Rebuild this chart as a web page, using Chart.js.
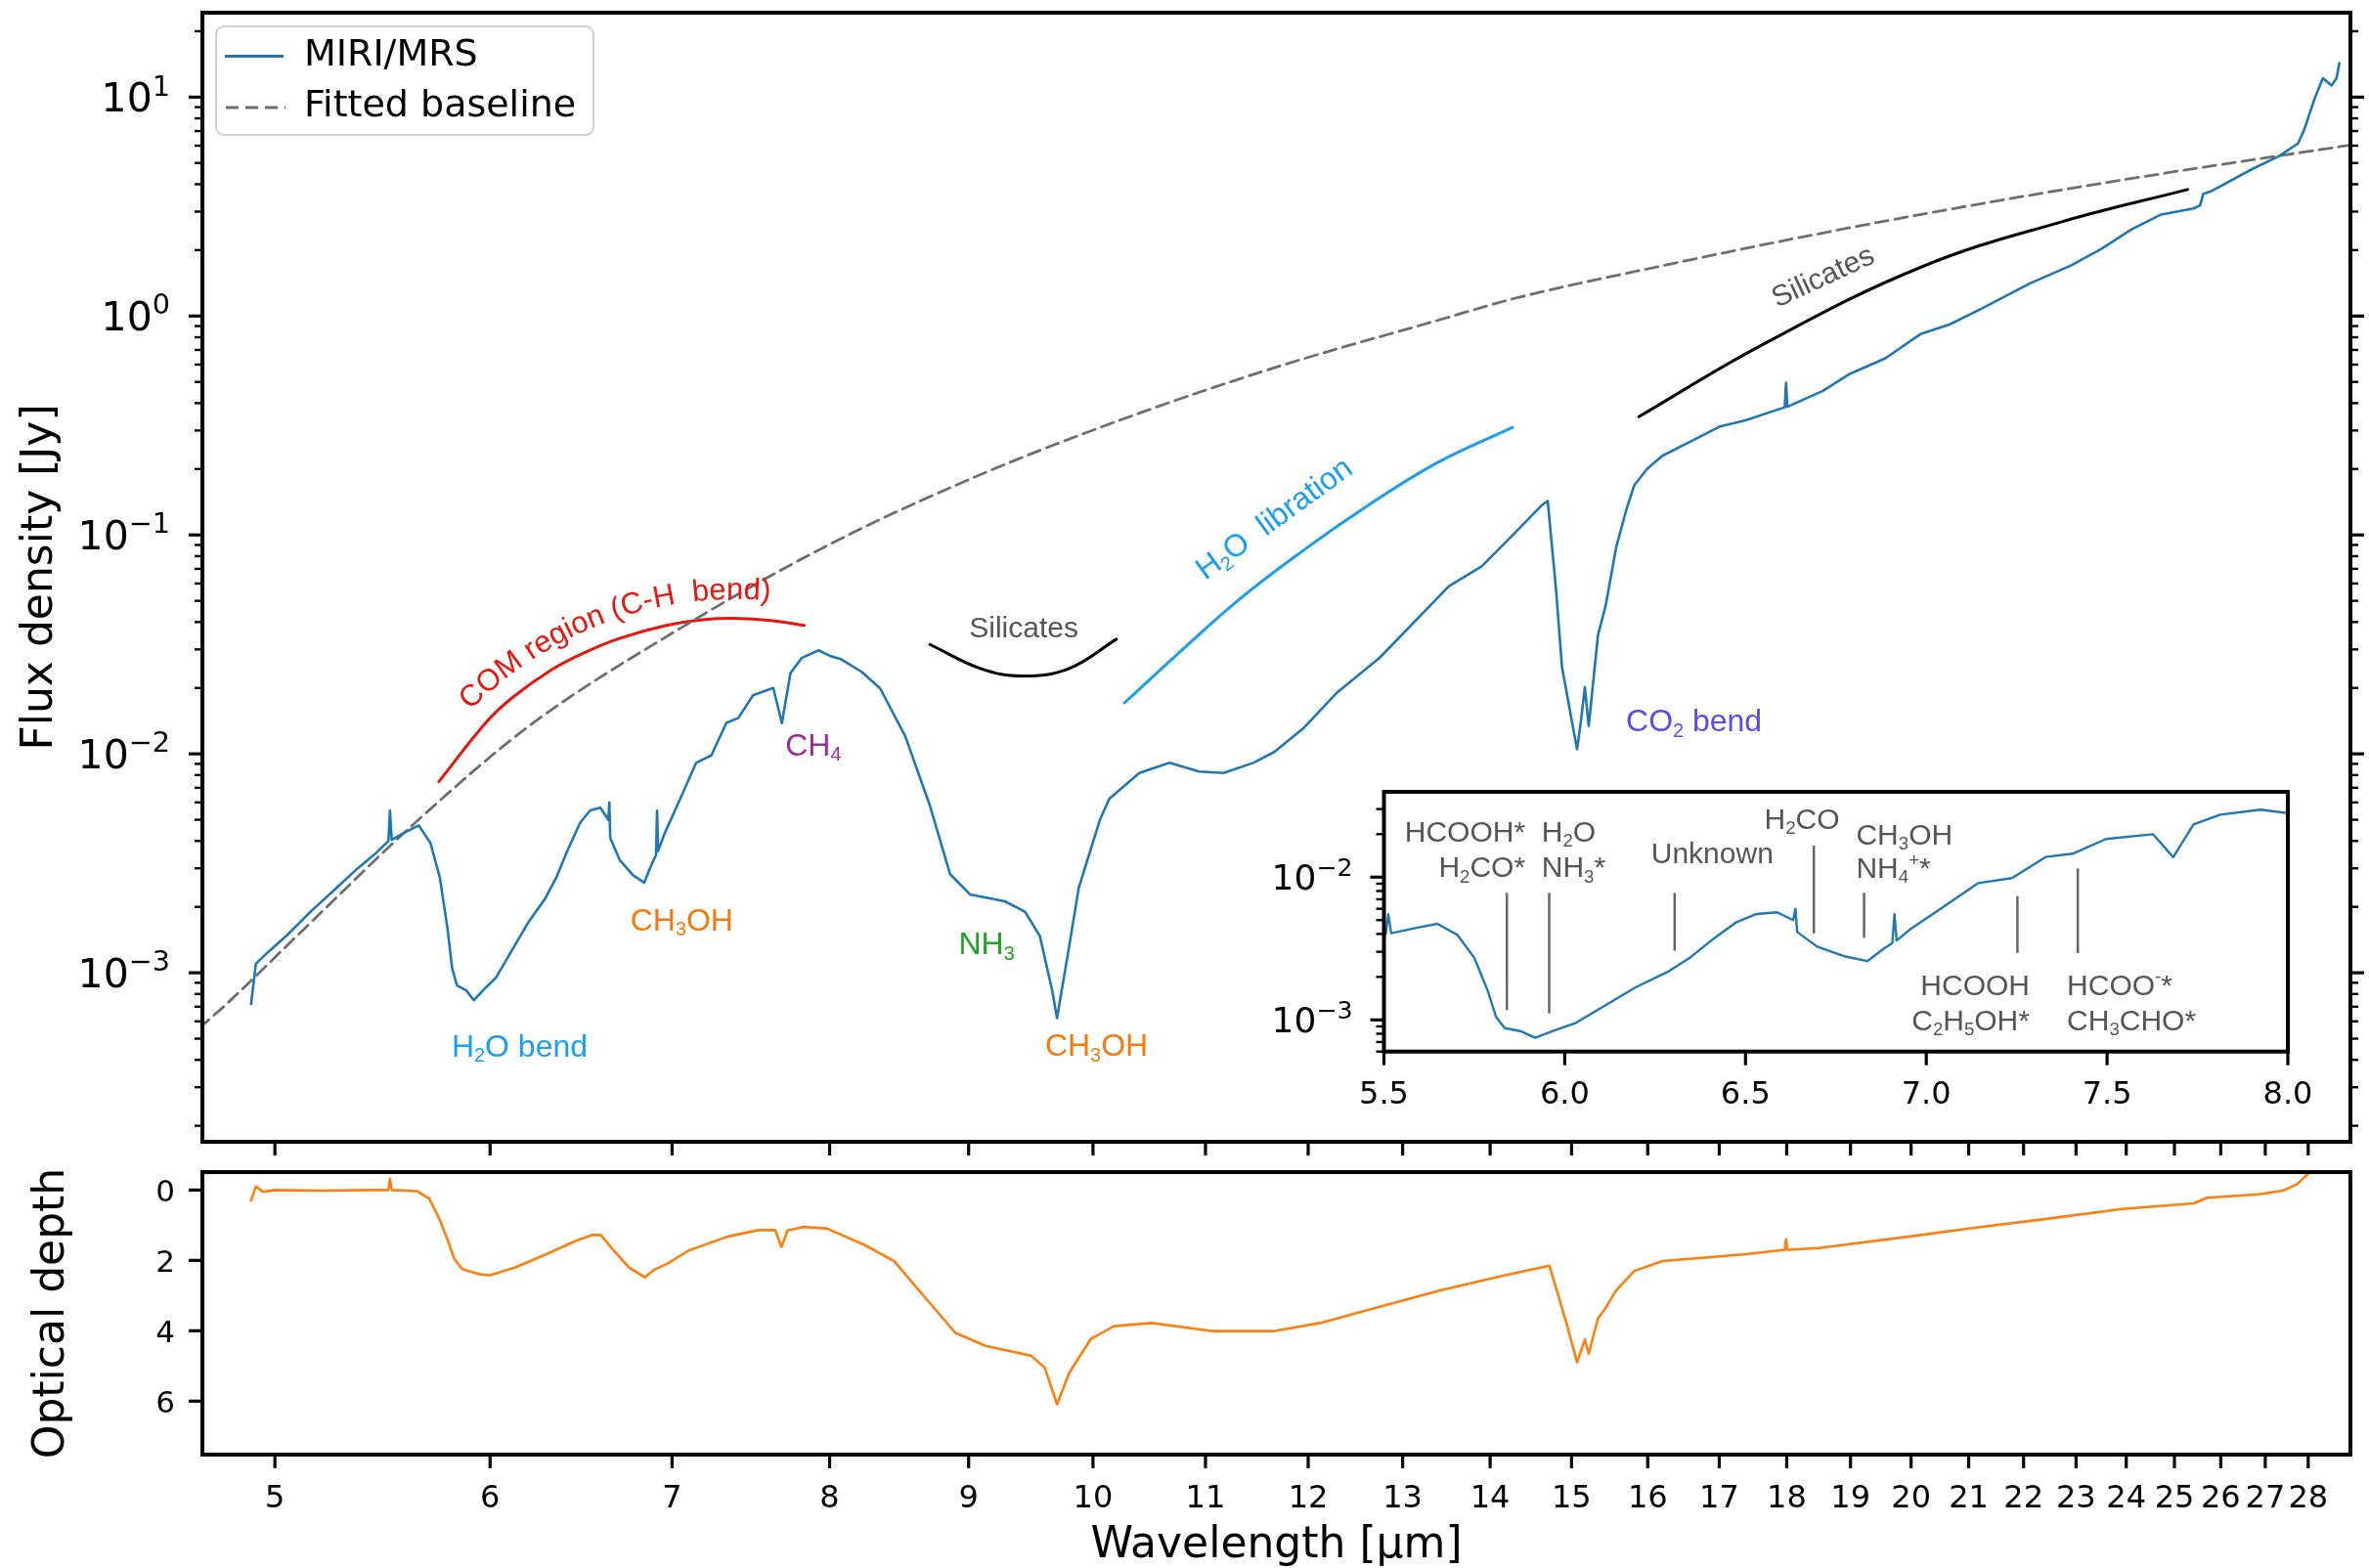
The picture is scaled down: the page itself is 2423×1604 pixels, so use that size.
<!DOCTYPE html>
<html>
<head>
<meta charset="utf-8">
<script src="https://cdn.jsdelivr.net/npm/chart.js@4.4.1/dist/chart.umd.min.js"></script>
<style>
  html, body { margin: 0; padding: 0; background: #fff; }
  #wrap { position: relative; width: 2423px; height: 1604px; }
  #wrap canvas { position: absolute; left: 0; top: 0; }
</style>
</head>
<body>
<div id="wrap">
  <canvas id="topChart" width="2423" height="1604"></canvas>
  <canvas id="bottomChart" width="2423" height="1604"></canvas>
  <canvas id="insetChart" width="2423" height="1604"></canvas>
</div>
<script>
// spectrum: wavelength [um] and flux density [Jy]
const wlFlux = [4.90, 4.92, 4.97, 5.05, 5.16, 5.26, 5.36, 5.44, 5.505, 5.512, 5.52, 5.60, 5.648, 5.704, 5.750, 5.787,
  5.810, 5.834, 5.880, 5.918, 5.964, 6.029, 6.104, 6.196, 6.289, 6.345, 6.401, 6.475, 6.531, 6.587, 6.632, 6.638,
  6.643, 6.698, 6.773, 6.837, 6.884, 6.906, 6.912, 6.918, 6.958, 7.051, 7.144, 7.237, 7.330, 7.405, 7.497, 7.627,
  7.683, 7.739, 7.813, 7.925, 7.999, 8.08, 8.22, 8.35, 8.53, 8.71, 8.86, 9.01, 9.28, 9.44, 9.56, 9.66, 9.70, 9.80,
  9.88, 10.06, 10.14, 10.40, 10.67, 10.94, 11.17, 11.46, 11.66, 11.96, 12.30, 12.75, 13.52, 13.90, 14.26, 14.62,
  14.70, 14.80, 14.88, 15.07, 15.12, 15.17, 15.22, 15.34, 15.44, 15.58, 15.72, 15.82, 15.99, 16.20, 16.64, 17.00,
  17.38, 17.97, 17.99, 18.01, 18.56, 18.97, 19.57, 20.17, 20.66, 21.20, 22.12, 22.90, 23.49, 24.10, 24.72, 25.41,
  25.55, 25.62, 25.77, 26.70, 27.31, 27.76, 27.90, 28.16, 28.35, 28.56, 28.68, 28.75];
const flux = [7.2e-4, 1.10e-3, 1.24e-3, 1.48e-3, 1.93e-3, 2.40e-3, 2.98e-3, 3.47e-3, 4.0e-3, 5.5e-3, 4.05e-3, 4.47e-3,
  4.71e-3, 3.92e-3, 2.72e-3, 1.60e-3, 1.05e-3, 8.75e-4, 8.31e-4, 7.49e-4, 8.31e-4, 9.48e-4, 1.23e-3, 1.69e-3,
  2.20e-3, 2.71e-3, 3.53e-3, 4.84e-3, 5.52e-3, 5.67e-3, 5.0e-3, 6.0e-3, 4.13e-3, 3.26e-3, 2.79e-3, 2.58e-3, 3.18e-3,
  3.45e-3, 5.5e-3, 3.6e-3, 4.36e-3, 6.29e-3, 9.09e-3, 9.84e-3, 1.384e-2, 1.46e-2, 1.85e-2, 2.00e-2, 1.38e-2, 2.34e-2,
  2.74e-2, 2.97e-2, 2.81e-2, 2.70e-2, 2.37e-2, 1.99e-2, 1.20e-2, 5.79e-3, 2.82e-3, 2.28e-3, 2.12e-3, 1.90e-3,
  1.47e-3, 8.30e-4, 6.21e-4, 1.32e-3, 2.44e-3, 5.02e-3, 6.24e-3, 8.17e-3, 9.10e-3, 8.30e-3, 8.17e-3, 9.12e-3,
  1.02e-2, 1.32e-2, 1.91e-2, 2.75e-2, 5.83e-2, 7.19e-2, 9.89e-2, 0.136, 0.143, 0.0586, 0.0248, 0.0105, 0.0141,
  0.0202, 0.0134, 0.0349, 0.0476, 0.0883, 0.133, 0.169, 0.200, 0.230, 0.272, 0.312, 0.334, 0.383, 0.496, 0.385,
  0.455, 0.541, 0.641, 0.830, 0.914, 1.07, 1.41, 1.70, 2.02, 2.48, 2.91, 3.10, 3.20, 3.62, 3.70, 4.69, 5.37, 6.14,
  7.05, 9.94, 12.2, 11.3, 12.2, 14.3];

// fitted continuum (dashed grey)
const wlBase = [4.69, 4.795, 5.117, 5.62, 6.20, 7.05, 8.01, 9.10, 10.35, 11.76, 13.37, 14.31, 16.20, 18.41, 20.74, 23.82, 29.07];
const baseline = [5.59e-4, 7.13e-4, 1.555e-3, 4.74e-3, 0.01337, 0.0375, 0.0913, 0.1896, 0.3523, 0.5997, 0.950, 1.208,
  1.697, 2.35, 3.10, 4.15, 6.06];

// optical depth
const wlTau = [4.90, 4.92, 4.95, 5.00, 5.20, 5.40, 5.505, 5.512, 5.52, 5.64, 5.70, 5.75, 5.79, 5.82, 5.86, 5.95, 6.00,
  6.13, 6.29, 6.45, 6.54, 6.59, 6.66, 6.75, 6.84, 6.90, 6.97, 7.10, 7.20, 7.34, 7.53, 7.64, 7.68, 7.72, 7.82, 7.98,
  8.24, 8.45, 8.67, 8.90, 9.13, 9.49, 9.60, 9.70, 9.80, 9.98, 10.18, 10.51, 11.07, 11.65, 12.12, 12.75, 13.42, 14.13,
  14.72, 14.82, 14.95, 15.07, 15.17, 15.22, 15.34, 15.44, 15.58, 15.82, 16.20, 17.35, 17.97, 17.99, 18.01, 18.49,
  19.98, 21.03, 22.43, 23.92, 25.41, 25.70, 26.85, 27.40, 27.73, 28.08];
const tau = [0.30, -0.10, 0.05, 0.00, 0.02, 0.00, 0.00, -0.32, 0.00, 0.03, 0.25, 0.85, 1.45, 1.95, 2.25, 2.40, 2.42,
  2.20, 1.83, 1.45, 1.28, 1.28, 1.70, 2.20, 2.48, 2.25, 2.10, 1.72, 1.55, 1.32, 1.14, 1.14, 1.62, 1.15, 1.05, 1.09,
  1.56, 2.02, 3.04, 4.06, 4.43, 4.71, 5.05, 6.09, 5.20, 4.24, 3.87, 3.78, 4.01, 4.01, 3.78, 3.32, 2.85, 2.45,
  2.15, 2.90, 3.90, 4.90, 4.25, 4.65, 3.65, 3.35, 2.85, 2.30, 2.02, 1.83, 1.70, 1.40, 1.70, 1.65,
  1.32, 1.09, 0.82, 0.54, 0.38, 0.22, 0.12, 0.02, -0.16, -0.55];

// annotation arcs
const comArcX = [5.745, 5.985, 6.12, 6.32, 6.485, 6.69, 6.96, 7.20, 7.38, 7.61, 7.83];
const comArcY = [7.46e-3, 0.01409, 0.01824, 0.0242, 0.02864, 0.03357, 0.03855, 0.04111, 0.0416, 0.0407, 0.03865];
const silArcX = [8.71, 9.09, 9.42, 9.80, 10.20];
const silArcY = [0.0316, 0.02455, 0.0227, 0.02455, 0.0334];
const libArcX = [10.27, 10.77, 11.32, 11.92, 12.54, 13.37, 14.27];
const libArcY = [0.0171, 0.0294, 0.0508, 0.083, 0.129, 0.212, 0.310];
const sil2ArcX = [15.88, 17.62, 20.17, 22.74, 25.28];
const sil2ArcY = [0.3467, 0.736, 1.673, 2.703, 3.785];

// tick values
const wlTicks = [5, 6, 7, 8, 9, 10, 11, 12, 13, 14, 15, 16, 17, 18, 19, 20, 21, 22, 23, 24, 25, 26, 27, 28];
const tauTicks = [0, 2, 4, 6];
const insetTicks = [5.5, 6.0, 6.5, 7.0, 7.5, 8.0];

// inset feature markers
const markX = [5.84, 5.957, 6.304, 6.689, 6.828, 7.252, 7.419];
const markTop = [7.76e-3, 7.76e-3, 7.76e-3, 0.01663, 7.76e-3, 7.36e-3, 0.01153];
const markBottom = [1.17e-3, 1.11e-3, 3.05e-3, 4.03e-3, 3.76e-3, 2.94e-3, 2.94e-3];

const BLUE = '#1f77b4', ORANGE = '#ff7f0e', GREYDASH = '#6e6e6e', LIGHTBLUE = '#1a9ff0', RED = '#e8160c';
const DJ = '"DejaVu Sans"', HV = '"Liberation Sans", Arial, sans-serif';

const topLabels = [
  { t: 'H_2O bend', x: 6.152, y: 4.66e-4, c: LIGHTBLUE },
  { t: 'CH_3OH', x: 7.058, y: 1.762e-3, c: '#f47a10' },
  { t: 'CH_4', x: 7.890, y: 0.01105, c: '#9b2b9b' },
  { t: 'NH_3', x: 9.138, y: 1.367e-3, c: '#1fa51f' },
  { t: 'CH_3OH', x: 10.03, y: 4.68e-4, c: '#f47a10' },
  { t: 'CO_2 bend', x: 16.64, y: 0.01427, c: '#5b4ee6' },
  { t: 'Silicates', x: 9.43, y: 0.0382, c: '#555555', s: 30 },
  { t: 'Silicates', x: 18.55, y: 1.534, c: '#555555', s: 30, rot: -25 },
  { t: 'H_2O  libration', x: 11.65, y: 0.1203, c: LIGHTBLUE, rot: -36 }
];
const comText = 'COM region (C-H  bend)';
const comTextX = 6.63;
const insetLabels = [
  { t: 'HCOOH*', x: 5.891, y: 0.0211, a: 'right' },
  { t: 'H_2CO*', x: 5.891, y: 0.01183, a: 'right' },
  { t: 'H_2O', x: 5.936, y: 0.0211, a: 'left' },
  { t: 'NH_3*', x: 5.936, y: 0.01183, a: 'left' },
  { t: 'Unknown', x: 6.408, y: 0.01496, a: 'center' },
  { t: 'H_2CO', x: 6.656, y: 0.0257, a: 'center' },
  { t: 'CH_3OH', x: 6.806, y: 0.0200, a: 'left' },
  { t: 'NH_4^+*', x: 6.806, y: 0.01166, a: 'left' },
  { t: 'HCOOH', x: 7.286, y: 1.775e-3, a: 'right' },
  { t: 'C_2H_5OH*', x: 7.286, y: 1.0e-3, a: 'right' },
  { t: 'HCOO^-*', x: 7.389, y: 1.775e-3, a: 'left' },
  { t: 'CH_3CHO*', x: 7.389, y: 1.0e-3, a: 'left' }
];

const pts = (xs, ys) => xs.map((x, i) => ({ x: x, y: ys[i] }));

// ---------- drawing helpers ----------
function richParts(str) {
  const parts = [];
  let i = 0;
  while (i < str.length) {
    const c = str[i];
    if (c === '_' || c === '^') {
      parts.push({ t: str[i + 1], k: c === '_' ? 'sub' : 'sup' });
      i += 2;
    } else {
      let j = i;
      while (j < str.length && str[j] !== '_' && str[j] !== '^') j++;
      parts.push({ t: str.slice(i, j), k: 'n' });
      i = j;
    }
  }
  return parts;
}

// y is the centre of the capital letters
function drawRich(ctx, str, x, y, size, family, color, align) {
  const parts = richParts(str);
  let w = 0;
  parts.forEach(p => {
    p.s = p.k === 'n' ? size : size * 0.62;
    ctx.font = p.s + 'px ' + family;
    p.w = ctx.measureText(p.t).width;
    w += p.w;
  });
  let x0 = align === 'center' ? x - w / 2 : align === 'right' ? x - w : x;
  const base = y + size * 0.36;
  ctx.fillStyle = color;
  ctx.textAlign = 'left';
  ctx.textBaseline = 'alphabetic';
  parts.forEach(p => {
    ctx.font = p.s + 'px ' + family;
    const dy = p.k === 'sub' ? size * 0.17 : p.k === 'sup' ? -size * 0.42 : 0;
    ctx.fillText(p.t, x0, base + dy);
    x0 += p.w;
  });
}

function drawPow(ctx, n, xRight, yc, size) {
  const b = '10', e = (n < 0 ? '\u2212' : '') + Math.abs(n);
  const ss = size * 0.7;
  ctx.font = size + 'px ' + DJ;
  const wb = ctx.measureText(b).width;
  ctx.font = ss + 'px ' + DJ;
  const we = ctx.measureText(e).width;
  const x0 = xRight - wb - we, bl = yc + size * 0.365;
  ctx.fillStyle = '#000';
  ctx.textAlign = 'left';
  ctx.textBaseline = 'alphabetic';
  ctx.font = size + 'px ' + DJ;
  ctx.fillText(b, x0, bl);
  ctx.font = ss + 'px ' + DJ;
  ctx.fillText(e, x0 + wb, bl - size * 0.41);
}

function line(ctx, x1, y1, x2, y2, w, color) {
  ctx.beginPath();
  ctx.moveTo(x1, y1);
  ctx.lineTo(x2, y2);
  ctx.lineWidth = w;
  ctx.strokeStyle = color || '#000';
  ctx.stroke();
}

function frame(ctx, a, w) {
  ctx.lineWidth = w;
  ctx.strokeStyle = '#000';
  ctx.setLineDash([]);
  ctx.strokeRect(a.left, a.top, a.right - a.left, a.bottom - a.top);
}

function logTicks(min, max) {
  const out = [];
  for (let d = Math.floor(Math.log10(min)); d <= Math.ceil(Math.log10(max)); d++) {
    for (let k = 1; k < 10; k++) {
      const v = k * Math.pow(10, d);
      if (v >= min * 0.999 && v <= max * 1.001) out.push({ v: v, major: k === 1, d: d });
    }
  }
  return out;
}

function logYAxis(ctx, ys, xEdge, dir, labelSize, pad) {
  logTicks(ys.min, ys.max).forEach(t => {
    const y = ys.getPixelForValue(t.v);
    line(ctx, xEdge, y, xEdge + dir * (t.major ? 14 : 8), y, t.major ? 3.2 : 2.4);
    if (labelSize && t.major) drawPow(ctx, t.d, xEdge - 14 - pad, y, labelSize);
  });
}

function xTicks(ctx, xs, vals, yEdge, labels, fmt) {
  ctx.font = '32px ' + DJ;
  ctx.fillStyle = '#000';
  ctx.textAlign = 'center';
  ctx.textBaseline = 'alphabetic';
  vals.forEach(v => {
    const x = xs.getPixelForValue(v);
    line(ctx, x, yEdge, x, yEdge + 14, 3.2);
    if (labels) ctx.fillText(fmt ? fmt(v) : String(v), x, yEdge + 53.5);
  });
}

function circum(p1, p2, p3) {
  const ax = p1.x, ay = p1.y, bx = p2.x, by = p2.y, cx = p3.x, cy = p3.y;
  const d = 2 * (ax * (by - cy) + bx * (cy - ay) + cx * (ay - by));
  const a2 = ax * ax + ay * ay, b2 = bx * bx + by * by, c2 = cx * cx + cy * cy;
  return {
    x: (a2 * (by - cy) + b2 * (cy - ay) + c2 * (ay - by)) / d,
    y: (a2 * (cx - bx) + b2 * (ax - cx) + c2 * (bx - ax)) / d
  };
}

// characters laid along a circle, baseline radius r
function arcText(ctx, str, c, r, phiMid, size, family, color) {
  ctx.font = size + 'px ' + family;
  ctx.fillStyle = color;
  ctx.textAlign = 'center';
  ctx.textBaseline = 'alphabetic';
  let phi = phiMid - ctx.measureText(str).width / 2 / r;
  for (const ch of str) {
    const w = ctx.measureText(ch).width;
    const a = phi + w / 2 / r;
    ctx.save();
    ctx.translate(c.x + r * Math.cos(a), c.y + r * Math.sin(a));
    ctx.rotate(a + Math.PI / 2);
    ctx.fillText(ch, 0, 0);
    ctx.restore();
    phi += w / r;
  }
}

// ---------- top panel ----------
const topDecor = {
  id: 'topDecor',
  afterDraw(chart) {
    const ctx = chart.ctx, a = chart.chartArea, xs = chart.scales.x, ys = chart.scales.y;
    ctx.save();
    frame(ctx, a, 4);
    logYAxis(ctx, ys, a.left, -1, 41, 19);
    logYAxis(ctx, ys, a.right, 1, 0, 0);
    xTicks(ctx, xs, wlTicks, a.bottom, false);

    // y label
    ctx.save();
    ctx.translate(53, (a.top + a.bottom) / 2);
    ctx.rotate(-Math.PI / 2);
    ctx.font = '44px ' + DJ;
    ctx.fillStyle = '#000';
    ctx.textAlign = 'center';
    ctx.textBaseline = 'alphabetic';
    ctx.fillText('Flux density [Jy]', 0, 0);
    ctx.restore();

    // text labels
    topLabels.forEach(l => {
      const px = xs.getPixelForValue(l.x), py = ys.getPixelForValue(l.y);
      ctx.save();
      ctx.translate(px, py);
      if (l.rot) ctx.rotate(l.rot * Math.PI / 180);
      drawRich(ctx, l.t, 0, 0, l.s || 32, HV, l.c, 'center');
      ctx.restore();
    });

    // curved label riding above the red arc
    const P = i => ({ x: xs.getPixelForValue(comArcX[i]), y: ys.getPixelForValue(comArcY[i]) });
    const n = comArcX.length;
    const c = circum(P(0), P(Math.floor(n / 2)), P(n - 1));
    const R = Math.hypot(P(0).x - c.x, P(0).y - c.y);
    const rb = R + 20;
    const axPx = xs.getPixelForValue(comTextX);
    const phiMid = -Math.acos(Math.max(-1, Math.min(1, (axPx - c.x) / rb)));
    arcText(ctx, comText, c, rb, phiMid, 31, HV, RED);

    // legend
    ctx.globalAlpha = 0.8;
    ctx.fillStyle = '#fff';
    ctx.beginPath();
    ctx.roundRect(221, 27, 386, 111, 8);
    ctx.fill();
    ctx.globalAlpha = 1;
    ctx.lineWidth = 2;
    ctx.strokeStyle = '#d0d0d0';
    ctx.stroke();
    line(ctx, 230, 57.5, 290, 57.5, 3, BLUE);
    ctx.setLineDash([13, 7]);
    line(ctx, 231, 110, 292, 110, 3, GREYDASH);
    ctx.setLineDash([]);
    ctx.font = '38px ' + DJ;
    ctx.fillStyle = '#000';
    ctx.textAlign = 'left';
    ctx.textBaseline = 'alphabetic';
    ctx.fillText('MIRI/MRS', 311, 67);
    ctx.fillText('Fitted baseline', 311, 119);
    ctx.restore();
  }
};

const commonOpts = (pad) => ({
  responsive: false,
  animation: false,
  devicePixelRatio: 1,
  layout: { padding: pad },
  plugins: { legend: { display: false }, tooltip: { enabled: false } },
  elements: { point: { radius: 0 }, line: { borderJoinStyle: 'round', borderCapStyle: 'round' } }
});

const topOpts = commonOpts({ left: 207, top: 13, right: 19, bottom: 436 });
topOpts.scales = {
  x: { type: 'logarithmic', min: 4.702, max: 29.02, display: false },
  y: { type: 'logarithmic', min: 1.69e-4, max: 24.3, display: false }
};

new Chart(document.getElementById('topChart'), {
  type: 'line',
  data: {
    datasets: [
      { data: pts(wlFlux, flux), borderColor: BLUE, borderWidth: 2.6, tension: 0 },
      { data: pts(wlBase, baseline), borderColor: GREYDASH, borderWidth: 2.8, borderDash: [13, 7], cubicInterpolationMode: 'monotone' },
      { data: pts(comArcX, comArcY), borderColor: RED, borderWidth: 3, tension: 0.4 },
      { data: pts(silArcX, silArcY), borderColor: '#000', borderWidth: 3, tension: 0.4 },
      { data: pts(libArcX, libArcY), borderColor: LIGHTBLUE, borderWidth: 3, tension: 0.4 },
      { data: pts(sil2ArcX, sil2ArcY), borderColor: '#000', borderWidth: 3, tension: 0.4 }
    ]
  },
  options: topOpts,
  plugins: [topDecor]
});

// ---------- bottom panel ----------
const bottomDecor = {
  id: 'bottomDecor',
  afterDraw(chart) {
    const ctx = chart.ctx, a = chart.chartArea, xs = chart.scales.x, ys = chart.scales.y;
    ctx.save();
    frame(ctx, a, 4);
    xTicks(ctx, xs, wlTicks, a.bottom, true);
    ctx.font = '31px ' + DJ;
    ctx.textAlign = 'right';
    ctx.textBaseline = 'alphabetic';
    tauTicks.forEach(v => {
      const y = ys.getPixelForValue(v);
      line(ctx, a.left, y, a.left - 14, y, 3.2);
      ctx.fillStyle = '#000';
      ctx.fillText(String(v), a.left - 28, y + 31 * 0.365);
    });
    ctx.save();
    ctx.translate(65, (a.top + a.bottom) / 2);
    ctx.rotate(-Math.PI / 2);
    ctx.font = '44px ' + DJ;
    ctx.textAlign = 'center';
    ctx.fillStyle = '#000';
    ctx.fillText('Optical depth', 0, 0);
    ctx.restore();
    ctx.font = '44px ' + DJ;
    ctx.textAlign = 'center';
    ctx.fillText('Wavelength [\u03bcm]', (a.left + a.right) / 2, 1593);
    ctx.restore();
  }
};
const bottomOpts = commonOpts({ left: 207, top: 1199, right: 19, bottom: 116 });
bottomOpts.scales = {
  x: { type: 'logarithmic', min: 4.702, max: 29.02, display: false },
  y: { type: 'linear', min: -0.51, max: 7.52, reverse: true, display: false }
};
new Chart(document.getElementById('bottomChart'), {
  type: 'line',
  data: { datasets: [{ data: pts(wlTau, tau), borderColor: ORANGE, borderWidth: 2.6, tension: 0 }] },
  options: bottomOpts,
  plugins: [bottomDecor]
});

// ---------- inset ----------
const insetDecor = {
  id: 'insetDecor',
  beforeDatasetsDraw(chart) {
    const ctx = chart.ctx, a = chart.chartArea;
    ctx.save();
    ctx.fillStyle = '#fff';
    ctx.fillRect(a.left, a.top, a.right - a.left, a.bottom - a.top);
    ctx.restore();
  },
  afterDraw(chart) {
    const ctx = chart.ctx, a = chart.chartArea, xs = chart.scales.x, ys = chart.scales.y;
    ctx.save();
    markX.forEach((x, i) => {
      const px = xs.getPixelForValue(x);
      line(ctx, px, ys.getPixelForValue(markTop[i]), px, ys.getPixelForValue(markBottom[i]), 2.5, '#666');
    });
    insetLabels.forEach(l => {
      drawRich(ctx, l.t, xs.getPixelForValue(l.x), ys.getPixelForValue(l.y), 30, HV, '#555555', l.a);
    });
    frame(ctx, a, 4);
    logYAxis(ctx, ys, a.left, -1, 36, 18);
    xTicks(ctx, xs, insetTicks, a.bottom, true, v => v.toFixed(1));
    ctx.restore();
  }
};
const insetOpts = commonOpts({ left: 1415.5, top: 810, right: 83, bottom: 528.3 });
insetOpts.scales = {
  x: { type: 'linear', min: 5.5, max: 8.0, display: false },
  y: { type: 'logarithmic', min: 6.0e-4, max: 0.0396, display: false }
};
new Chart(document.getElementById('insetChart'), {
  type: 'line',
  data: { datasets: [{ data: pts(wlFlux, flux), borderColor: BLUE, borderWidth: 2.4, tension: 0 }] },
  options: insetOpts,
  plugins: [insetDecor]
});
</script>
</body>
</html>
